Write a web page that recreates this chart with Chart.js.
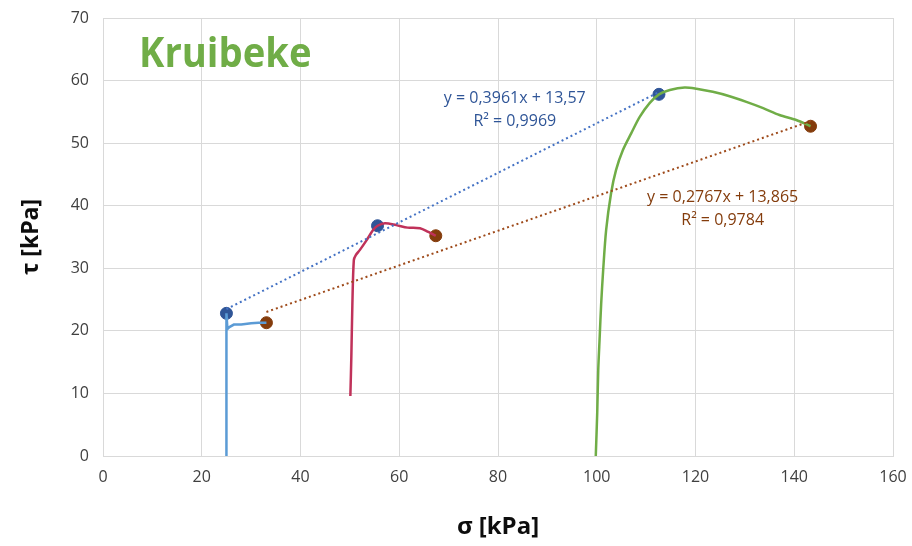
<!DOCTYPE html>
<html>
<head>
<meta charset="utf-8">
<script src="https://cdn.jsdelivr.net/npm/chart.js@4.4.1/dist/chart.umd.min.js"></script>
<style>
  html, body { margin: 0; padding: 0; background: #fff; }
  #wrap { width: 912px; height: 546px; }
</style>
</head>
<body>
<div id="wrap"><canvas id="myChart"></canvas></div>
<script>
// σ / τ paths of the three shear tests (kPa)
const test25Sigma = [25.0, 25.0, 25.0, 25.0, 25.2, 25.6, 26.5, 28.0, 30.0, 31.5, 33.1];
const test25Tau   = [0.0, 10.0, 20.0, 22.8, 20.3, 20.6, 21.0, 21.0, 21.2, 21.3, 21.3];

const test50Sigma = [50.1, 50.3, 50.5, 50.8, 51.2, 52.0, 53.4, 54.7, 55.6, 57.1, 59.4, 61.7, 64.2, 65.9, 67.4];
const test50Tau   = [9.6, 16.0, 24.0, 31.3, 32.1, 32.9, 34.5, 36.1, 36.8, 37.2, 36.9, 36.5, 36.4, 35.8, 35.2];

const test100Sigma = [99.8, 100.1, 100.3, 100.6, 100.9, 101.3, 101.9, 102.9, 103.9, 105.3, 107.0, 108.7, 110.7, 112.6,
                      114.8, 117.8, 120.2, 123.5, 126.9, 130.3, 133.7, 137.0, 140.4, 143.3];
const test100Tau   = [0.0, 7.0, 13.7, 19.1, 24.4, 29.7, 36.1, 42.0, 45.7, 48.9, 51.6, 54.2, 56.4, 57.8,
                      58.5, 58.9, 58.7, 58.2, 57.5, 56.6, 55.6, 54.5, 53.7, 52.7];

// peak and end (residual) points
const peakSigma = [25.0, 55.6, 112.6];
const peakTau   = [22.8, 36.8, 57.8];
const endSigma  = [33.1, 67.4, 143.3];
const endTau    = [21.3, 35.2, 52.7];

// linear fits: [slope, intercept, R²]
const peakFit = [0.3961, 13.57, 0.9969];
const endFit  = [0.2767, 13.865, 0.9784];

const xTicks = [0, 20, 40, 60, 80, 100, 120, 140, 160];
const yTicks = [0, 10, 20, 30, 40, 50, 60, 70];

const toPoints = (xs, ys) => xs.map((x, i) => ({ x: x, y: ys[i] }));
const fitLine = (fit, xs) => {
    const lo = Math.min(...xs), hi = Math.max(...xs);
    return [{ x: lo, y: fit[0] * lo + fit[1] }, { x: hi, y: fit[0] * hi + fit[1] }];
};
const fmt = (v) => String(v).replace('.', ',');

const BLUE_DARK = '#2F5597';
const BROWN = '#843C0C';
const FONT = "'Open Sans', 'Noto Sans', sans-serif";

// equation labels and site name drawn on top of the plot
const labelsPlugin = {
    id: 'labels',
    afterDatasetsDraw(chart) {
        const { ctx, scales } = chart;
        const x = scales.x, y = scales.y;
        ctx.save();
        ctx.textAlign = 'center';
        ctx.textBaseline = 'middle';
        ctx.font = `16px ${FONT}`;

        ctx.fillStyle = BLUE_DARK;
        ctx.fillText(`y = ${fmt(peakFit[0])}x + ${fmt(peakFit[1])}`, x.getPixelForValue(83.4), y.getPixelForValue(57.2));
        ctx.fillText(`R² = ${fmt(peakFit[2])}`, x.getPixelForValue(83.4), y.getPixelForValue(53.4));

        ctx.fillStyle = BROWN;
        ctx.fillText(`y = ${fmt(endFit[0])}x + ${fmt(endFit[1])}`, x.getPixelForValue(125.5), y.getPixelForValue(41.3));
        ctx.fillText(`R² = ${fmt(endFit[2])}`, x.getPixelForValue(125.5), y.getPixelForValue(37.7));

        // site name, condensed like the original bold heading
        ctx.fillStyle = '#70AD47';
        ctx.font = `bold 42px ${FONT}`;
        ctx.textAlign = 'left';
        ctx.textBaseline = 'alphabetic';
        ctx.translate(139, 67);
        ctx.scale(0.91, 1);
        ctx.fillText('Kruibeke', 0, 0);
        ctx.restore();
    }
};

const ctx = document.getElementById('myChart').getContext('2d');

new Chart(ctx, {
    type: 'scatter',
    data: {
        datasets: [
            {
                data: fitLine(peakFit, peakSigma),
                showLine: true,
                borderColor: '#4472C4',
                borderWidth: 2,
                borderDash: [2, 3],
                pointRadius: 0,
            },
            {
                data: fitLine(endFit, endSigma),
                showLine: true,
                borderColor: '#9E4A1A',
                borderWidth: 2,
                borderDash: [2, 3],
                pointRadius: 0,
            },
            {
                data: toPoints(test25Sigma, test25Tau),
                showLine: true,
                borderColor: '#5B9BD5',
                borderWidth: 2.5,
                pointRadius: 0,
                tension: 0,
            },
            {
                data: toPoints(test50Sigma, test50Tau),
                showLine: true,
                borderColor: '#C0325A',
                borderWidth: 2.5,
                pointRadius: 0,
                tension: 0.3,
            },
            {
                data: toPoints(test100Sigma, test100Tau),
                showLine: true,
                borderColor: '#70AD47',
                borderWidth: 2.5,
                pointRadius: 0,
                tension: 0.3,
            },
            {
                data: toPoints(peakSigma, peakTau),
                backgroundColor: BLUE_DARK,
                borderColor: BLUE_DARK,
                pointRadius: 6,
            },
            {
                data: toPoints(endSigma, endTau),
                backgroundColor: BROWN,
                borderColor: BROWN,
                pointRadius: 6,
            },
        ],
    },
    options: {
        responsive: true,
        maintainAspectRatio: false,
        animation: false,
        layout: {
            padding: { left: 0, right: 19, top: 18, bottom: 0 },
        },
        plugins: {
            legend: { display: false },
            tooltip: { enabled: false },
        },
        scales: {
            x: {
                type: 'linear',
                min: 0,
                max: 160,
                afterBuildTicks: (scale) => { scale.ticks = xTicks.map(v => ({ value: v })); },
                afterFit: (scale) => {
                    scale.height = 90;
                    scale.paddingLeft = 0;
                    scale.paddingRight = 0;
                },
                ticks: {
                    color: '#404040',
                    font: { family: FONT, size: 16 },
                    padding: 12,
                },
                grid: {
                    color: '#D9D9D9',
                    drawTicks: false,
                },
                border: { color: '#D9D9D9' },
                title: {
                    display: true,
                    text: 'σ [kPa]',
                    color: '#0D0D0D',
                    font: { family: FONT, size: 24, weight: 'bold' },
                    padding: { top: 14 },
                },
            },
            y: {
                type: 'linear',
                min: 0,
                max: 70,
                afterBuildTicks: (scale) => { scale.ticks = yTicks.map(v => ({ value: v })); },
                afterFit: (scale) => {
                    scale.width = 103;
                    scale.paddingTop = 0;
                    scale.paddingBottom = 0;
                },
                ticks: {
                    color: '#404040',
                    font: { family: FONT, size: 16 },
                    padding: 14,
                },
                grid: {
                    color: '#D9D9D9',
                    drawTicks: false,
                },
                border: { color: '#D9D9D9' },
                title: {
                    display: true,
                    text: 'τ [kPa]',
                    color: '#0D0D0D',
                    font: { family: FONT, size: 23, weight: 'bold' },
                    padding: { top: 18, bottom: 0 },
                },
            },
        },
    },
    plugins: [labelsPlugin],
});
</script>
</body>
</html>
